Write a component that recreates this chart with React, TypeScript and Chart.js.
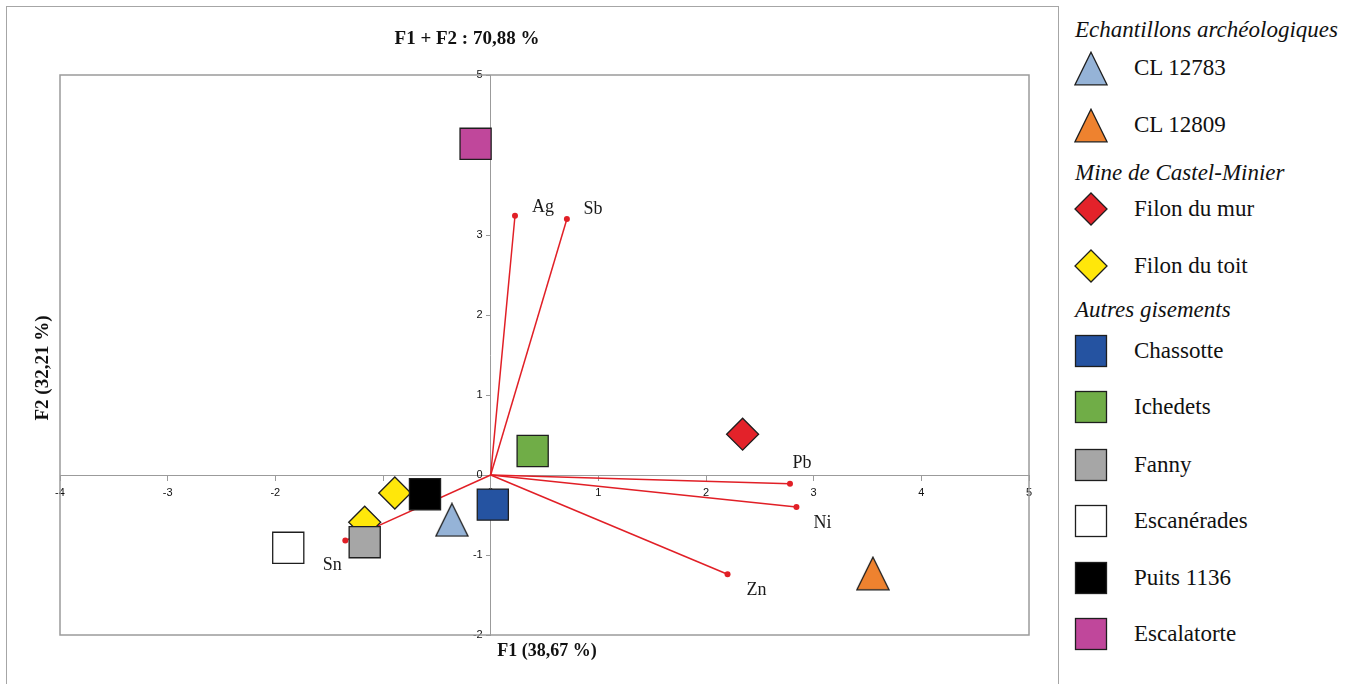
import React, { useEffect, useRef } from 'react';
import { Chart, registerables } from 'chart.js';

Chart.register(...registerables);

// ---------- DATA ----------
const chartTitle = 'F1 + F2 : 70,88 %';
const xTitle = 'F1 (38,67 %)';
const yTitle = 'F2 (32,21 %)';

const xTickValues = [-4, -3, -2, -1, 0, 1, 2, 3, 4, 5];
const yTickValues = [-2, -1, 0, 1, 2, 3, 4, 5];

const groupTitles = ['Echantillons archéologiques', 'Mine de Castel-Minier', 'Autres gisements'];

const cl12783 = [{ x: -0.36, y: -0.56 }];
const cl12809 = [{ x: 3.55, y: -1.23 }];
const filonDuMur = [{ x: 2.34, y: 0.51 }];
const filonDuToit = [
  { x: -0.89, y: -0.225 },
  { x: -1.17, y: -0.59 },
];
const chassotte = [{ x: 0.02, y: -0.37 }];
const ichedets = [{ x: 0.39, y: 0.3 }];
const fanny = [{ x: -1.17, y: -0.84 }];
const escanerades = [{ x: -1.88, y: -0.91 }];
const puits1136 = [{ x: -0.61, y: -0.24 }];
const escalatorte = [{ x: -0.14, y: 4.14 }];

const variables = ['Ag', 'Sb', 'Pb', 'Ni', 'Zn', 'Sn'];
const varF1 = [0.226, 0.708, 2.78, 2.84, 2.2, -1.35];
const varF2 = [3.24, 3.2, -0.11, -0.4, -1.24, -0.82];

// ---------- STYLE ----------
type Shape = 'triangle' | 'diamond' | 'square';
const series: { name: string; data: { x: number; y: number }[]; shape: Shape; color: string; group: number }[] = [
  { name: 'CL 12783', data: cl12783, shape: 'triangle', color: '#95B3D7', group: 0 },
  { name: 'CL 12809', data: cl12809, shape: 'triangle', color: '#EE822F', group: 0 },
  { name: 'Filon du mur', data: filonDuMur, shape: 'diamond', color: '#E3222A', group: 1 },
  { name: 'Filon du toit', data: filonDuToit, shape: 'diamond', color: '#FFE70A', group: 1 },
  { name: 'Chassotte', data: chassotte, shape: 'square', color: '#2553A1', group: 2 },
  { name: 'Ichedets', data: ichedets, shape: 'square', color: '#70AD47', group: 2 },
  { name: 'Fanny', data: fanny, shape: 'square', color: '#A6A6A6', group: 2 },
  { name: 'Escanérades', data: escanerades, shape: 'square', color: '#FFFFFF', group: 2 },
  { name: 'Puits 1136', data: puits1136, shape: 'square', color: '#000000', group: 2 },
  { name: 'Escalatorte', data: escalatorte, shape: 'square', color: '#C0479B', group: 2 },
];

const labelOffsets: [number, number][] = [
  [28, -9],
  [26, -10],
  [12, -21],
  [26, 16],
  [29, 16],
  [-13, 25],
];

const VECTOR_COLOR = '#E11F26';
const AXIS_COLOR = '#9B9B9B';
const EDGE_STROKE = '#1E1E1E';
const SERIF = '"Liberation Serif", "Times New Roman", serif';
const TICK_FONT = '"Liberation Sans", Arial, sans-serif';
const Y_LABEL_SHIFT = 8;

const W = 1058;
const H = 684;
const PLOT = { left: 60, top: 75, right: 1029, bottom: 635 };

// legend row vertical centers (layout only)
const legendHeadingCenters = [30, 173, 310];
const legendItemCenters = [68, 125, 209, 266, 351, 407, 465, 521, 578, 634];

function makeTriangle(color: string): HTMLCanvasElement {
  const c = document.createElement('canvas');
  c.width = 34;
  c.height = 35;
  const ctx = c.getContext('2d')!;
  ctx.beginPath();
  ctx.moveTo(17, 1.2);
  ctx.lineTo(33, 33.8);
  ctx.lineTo(1, 33.8);
  ctx.closePath();
  ctx.fillStyle = color;
  ctx.fill();
  ctx.lineWidth = 1.3;
  ctx.strokeStyle = EDGE_STROKE;
  ctx.lineJoin = 'miter';
  ctx.stroke();
  return c;
}

function LegendMarker({ shape, color }: { shape: Shape; color: string }) {
  if (shape === 'triangle') {
    return (
      <svg width={34} height={35} viewBox="0 0 34 35">
        <polygon points="17,1.2 33,33.8 1,33.8" fill={color} stroke={EDGE_STROKE} strokeWidth={1.3} />
      </svg>
    );
  }
  if (shape === 'diamond') {
    return (
      <svg width={34} height={34} viewBox="0 0 34 34">
        <polygon points="17,1 33,17 17,33 1,17" fill={color} stroke={EDGE_STROKE} strokeWidth={1.3} />
      </svg>
    );
  }
  return (
    <svg width={34} height={34} viewBox="0 0 34 34">
      <rect x={1.5} y={1.5} width={31} height={31} fill={color} stroke={EDGE_STROKE} strokeWidth={1.3} />
    </svg>
  );
}

export default function App() {
  const ref = useRef<HTMLCanvasElement>(null);

  useEffect(() => {
    const canvas = ref.current;
    if (!canvas) return;

    const orderFor = (s: Shape) => (s === 'square' ? 1 : s === 'triangle' ? 2 : 3);

    const markerSets = series.map((s) => ({
      label: s.name,
      data: s.data,
      order: orderFor(s.shape),
      pointStyle: s.shape === 'triangle' ? makeTriangle(s.color) : s.shape === 'diamond' ? 'rectRot' : 'rect',
      pointRadius: s.shape === 'square' ? 22 : s.shape === 'diamond' ? 16 : 17,
      pointBackgroundColor: s.color,
      pointBorderColor: EDGE_STROKE,
      pointBorderWidth: 1.3,
      showLine: false,
    }));

    const vectorSets = variables.map((v, i) => ({
      label: v,
      data: [
        { x: 0, y: 0 },
        { x: varF1[i], y: varF2[i] },
      ],
      order: 10,
      showLine: true,
      borderColor: VECTOR_COLOR,
      borderWidth: 1.5,
      pointRadius: (ctx: any) => (ctx.dataIndex === 1 ? 3 : 0),
      pointBackgroundColor: VECTOR_COLOR,
      pointBorderWidth: 0,
      pointStyle: 'circle',
    }));

    const frame = {
      id: 'plotFrame',
      beforeDatasetsDraw(chart: any) {
        const { ctx, chartArea } = chart;
        ctx.save();
        ctx.strokeStyle = AXIS_COLOR;
        ctx.lineWidth = 1.5;
        ctx.strokeRect(chartArea.left, chartArea.top, chartArea.right - chartArea.left, chartArea.bottom - chartArea.top);
        ctx.restore();
      },
    };

    const varLabels = {
      id: 'varLabels',
      afterDatasetsDraw(chart: any) {
        const { ctx, scales } = chart;
        ctx.save();
        ctx.font = `18px ${SERIF}`;
        ctx.fillStyle = '#1a1a1a';
        ctx.textAlign = 'center';
        ctx.textBaseline = 'middle';
        variables.forEach((v, i) => {
          const px = scales.x.getPixelForValue(varF1[i]) + labelOffsets[i][0];
          const py = scales.y.getPixelForValue(varF2[i]) + labelOffsets[i][1];
          ctx.fillText(v, px, py);
        });
        ctx.restore();
      },
    };

    const chart = new Chart(canvas, {
      type: 'scatter',
      data: { datasets: [...markerSets, ...vectorSets] as any },
      options: {
        animation: false,
        responsive: true,
        maintainAspectRatio: false,
        layout: {
          padding: { left: PLOT.left, top: PLOT.top, right: W - PLOT.right, bottom: H - PLOT.bottom },
        },
        plugins: {
          legend: { display: false },
          tooltip: { enabled: false },
          title: { display: false },
        },
        scales: {
          x: {
            type: 'linear',
            min: xTickValues[0],
            max: xTickValues[xTickValues.length - 1],
            position: { y: 0 } as any,
            afterBuildTicks: (axis: any) => {
              axis.ticks = xTickValues.map((v) => ({ value: v }));
            },
            ticks: { font: { family: TICK_FONT, size: 11 }, color: '#111', padding: 6 },
            grid: { display: true, drawOnChartArea: false, drawTicks: true, tickLength: 5, color: AXIS_COLOR },
            border: { display: true, color: AXIS_COLOR, width: 1 },
          },
          y: {
            type: 'linear',
            min: yTickValues[0],
            max: yTickValues[yTickValues.length - 1],
            position: { x: 0 } as any,
            afterBuildTicks: (axis: any) => {
              axis.ticks = yTickValues.map((v) => ({ value: v }));
            },
            afterUpdate: (axis: any) => {
              if (axis.__shiftPatched) return;
              axis.__shiftPatched = true;
              const orig = axis._computeLabelItems.bind(axis);
              axis._computeLabelItems = (ca: any) =>
                orig(ca).map((item: any) => {
                  const t = item.options && item.options.translation;
                  if (!t) return item;
                  return { ...item, options: { ...item.options, translation: [t[0] - Y_LABEL_SHIFT, t[1]] } };
                });
            },
            ticks: { font: { family: TICK_FONT, size: 11 }, color: '#111', padding: 4 },
            grid: { display: true, drawOnChartArea: false, drawTicks: true, tickLength: 4, color: AXIS_COLOR },
            border: { display: true, color: AXIS_COLOR, width: 1 },
          },
        },
      },
      plugins: [frame, varLabels],
    });

    return () => chart.destroy();
  }, []);

  const axisTitleStyle: React.CSSProperties = {
    position: 'absolute',
    width: 240,
    textAlign: 'center',
    fontFamily: SERIF,
    fontWeight: 'bold',
    fontSize: 18,
    lineHeight: '22px',
    color: '#111',
    whiteSpace: 'nowrap',
  };

  const headingStyle: React.CSSProperties = {
    position: 'absolute',
    left: 1075,
    fontFamily: SERIF,
    fontStyle: 'italic',
    fontSize: 23,
    lineHeight: '30px',
    color: '#111',
    whiteSpace: 'nowrap',
  };

  return (
    <div
      style={{
        position: 'fixed',
        left: 0,
        top: 0,
        width: 1355,
        height: 684,
        background: '#fff',
        overflow: 'hidden',
      }}
    >
      <div
        style={{
          position: 'absolute',
          left: 6,
          top: 6,
          width: 1053,
          height: 720,
          boxSizing: 'border-box',
          border: '1.5px solid #A6A6A6',
        }}
      />
      <div style={{ position: 'absolute', left: 0, top: 0, width: W, height: H }}>
        <canvas ref={ref} />
      </div>

      <div style={{ ...axisTitleStyle, left: 467 - 120, top: 27, fontSize: 19 }}>{chartTitle}</div>
      <div style={{ ...axisTitleStyle, left: 547 - 120, top: 639 }}>{xTitle}</div>
      <div
        style={{
          ...axisTitleStyle,
          left: 42 - 120,
          top: 368 - 11,
          fontSize: 19,
          transform: 'rotate(-90deg)',
          transformOrigin: '50% 50%',
        }}
      >
        {yTitle}
      </div>

      {groupTitles.map((g, i) => (
        <div key={g} style={{ ...headingStyle, top: legendHeadingCenters[i] - 15 }}>
          {g}
        </div>
      ))}
      {series.map((s, i) => (
        <div
          key={s.name}
          style={{
            position: 'absolute',
            left: 1074,
            top: legendItemCenters[i] - 17,
            height: 34,
            display: 'flex',
            alignItems: 'center',
            whiteSpace: 'nowrap',
          }}
        >
          <div style={{ width: 34, height: 34, display: 'flex', alignItems: 'center', justifyContent: 'center' }}>
            <LegendMarker shape={s.shape} color={s.color} />
          </div>
          <span
            style={{
              marginLeft: 26,
              fontFamily: SERIF,
              fontSize: 23,
              lineHeight: '34px',
              color: '#111',
            }}
          >
            {s.name}
          </span>
        </div>
      ))}
    </div>
  );
}
